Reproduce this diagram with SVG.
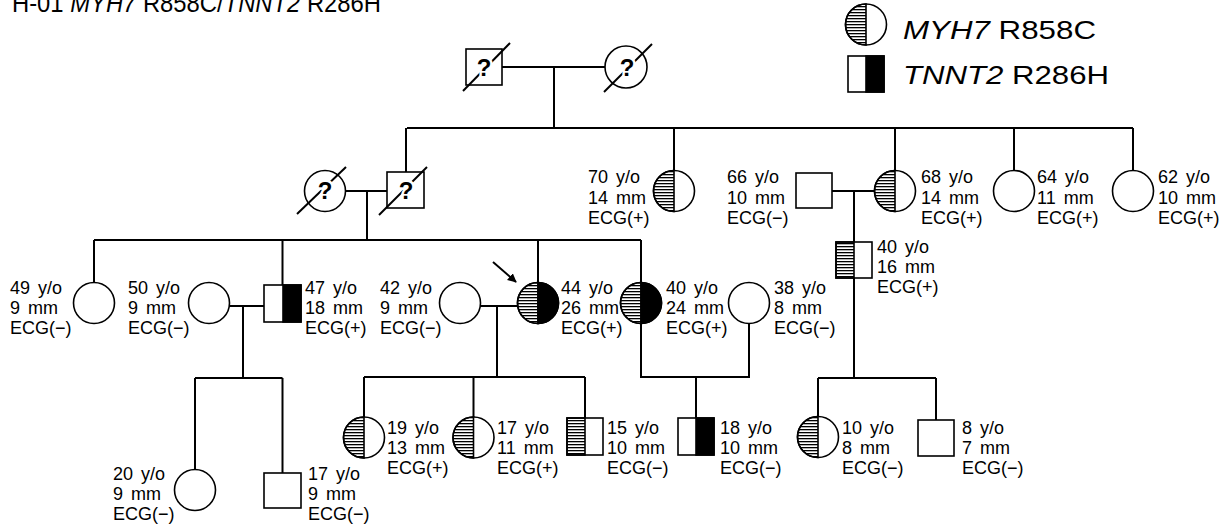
<svg xmlns="http://www.w3.org/2000/svg" width="1231" height="526" viewBox="0 0 1231 526">
<defs>
<pattern id="h" width="4" height="3" patternUnits="userSpaceOnUse"><rect width="4" height="1.3" fill="#000"/></pattern>
<marker id="ah" viewBox="0 0 10 10" refX="9" refY="5" markerWidth="9" markerHeight="9" markerUnits="userSpaceOnUse" orient="auto"><path d="M0,0 L10,5 L0,10 Z" fill="#000"/></marker>
</defs>
<style>
text{font-family:"Liberation Sans",Arial,sans-serif;fill:#000}
.lb{font-size:18px;word-spacing:3px}
.big{font-size:25px}
.q{font-size:24px;font-weight:bold;text-anchor:middle;paint-order:stroke;stroke:#fff;stroke-width:5px}
.n{fill:#fff;stroke:#000;stroke-width:1.6}
.ht{fill:url(#h);stroke:#000;stroke-width:1.6}
.bk{fill:#000;stroke:#000;stroke-width:1.6}
.ol{fill:none;stroke:#000;stroke-width:1.6}
.c line,.c path{stroke:#000;stroke-width:2;fill:none}
.sl{stroke:#000;stroke-width:2}
</style>
<rect width="1231" height="526" fill="#fff"/>
<text x="12" y="12" font-size="25" textLength="369" lengthAdjust="spacingAndGlyphs">H-01 <tspan font-style="italic">MYH7</tspan> R858C/<tspan font-style="italic">TNNT2</tspan> R286H</text>

<g id="legend">
<path class="ht" d="M866,4 A20.5,20.5 0 0 0 866,45 Z"/>
<circle class="ol" cx="866" cy="24.5" r="20.5"/>
<text class="big" x="903" y="39" textLength="193" lengthAdjust="spacingAndGlyphs"><tspan font-style="italic">MYH7</tspan> R858C</text>
<rect class="n" x="848" y="56" width="36" height="36"/>
<rect class="bk" x="866" y="56" width="18" height="36"/>
<text class="big" x="903" y="84" textLength="206" lengthAdjust="spacingAndGlyphs"><tspan font-style="italic">TNNT2</tspan> R286H</text>
</g>

<g id="connectors" class="c">
<line x1="502" y1="67" x2="605.5" y2="67"/>
<line x1="554" y1="67" x2="554" y2="128"/>
<line x1="407" y1="128" x2="1133" y2="128"/>
<line x1="406" y1="128" x2="406" y2="172"/>
<line x1="674" y1="128" x2="674" y2="170.5"/>
<line x1="895" y1="128" x2="895" y2="170.5"/>
<line x1="1014" y1="128" x2="1014" y2="170.5"/>
<line x1="1133" y1="128" x2="1133" y2="170.5"/>
<line x1="345.5" y1="191" x2="387" y2="191"/>
<line x1="367" y1="191" x2="367" y2="240"/>
<line x1="94" y1="240" x2="641" y2="240"/>
<line x1="94" y1="240" x2="94" y2="282.5"/>
<line x1="282.5" y1="240" x2="282.5" y2="285"/>
<line x1="538" y1="240" x2="538" y2="282.5"/>
<line x1="641" y1="240" x2="641" y2="282.5"/>
<line x1="832" y1="191" x2="874.5" y2="191"/>
<line x1="854" y1="191" x2="854" y2="242"/>
<line x1="854" y1="278" x2="854" y2="378"/>
<line x1="818" y1="378" x2="936" y2="378"/>
<line x1="818" y1="378" x2="818" y2="416.5"/>
<line x1="936" y1="378" x2="936" y2="420"/>
<line x1="229.5" y1="306" x2="264" y2="306"/>
<line x1="243" y1="306" x2="243" y2="378"/>
<line x1="195" y1="378" x2="282.5" y2="378"/>
<line x1="195" y1="378" x2="195" y2="469.5"/>
<line x1="282.5" y1="378" x2="282.5" y2="473"/>
<line x1="480.5" y1="306" x2="517.5" y2="306"/>
<line x1="497" y1="306" x2="497" y2="377"/>
<line x1="364" y1="377" x2="585" y2="377"/>
<line x1="364" y1="377" x2="364" y2="417"/>
<line x1="473.5" y1="377" x2="473.5" y2="417"/>
<line x1="585" y1="377" x2="585" y2="418"/>
<path d="M641,323.5 V377 H749 V323.5"/>
<line x1="696" y1="377" x2="696" y2="418"/>
<line x1="493" y1="262" x2="516" y2="282" marker-end="url(#ah)"/>
</g>

<g id="I-1">
<rect class="n" x="466" y="49" width="36" height="36"/>
<line class="sl" x1="463" y1="91" x2="510" y2="43"/>
<text class="q" x="484" y="76">?</text>
</g>
<g id="I-2">
<circle class="n" cx="626" cy="67" r="21"/>
<line class="sl" x1="604" y1="92" x2="652" y2="44"/>
<text class="q" x="627" y="76">?</text>
</g>

<g id="II-1">
<circle class="n" cx="325" cy="191" r="20.5"/>
<line class="sl" x1="297" y1="214" x2="346" y2="167"/>
<text class="q" x="325" y="199">?</text>
</g>
<g id="II-2">
<rect class="n" x="387" y="172" width="37" height="36"/>
<line class="sl" x1="379" y1="215" x2="427" y2="167"/>
<text class="q" x="406" y="199">?</text>
</g>
<g id="II-3">
<circle class="n" cx="674" cy="191" r="20.5"/>
<path class="ht" d="M674,170.5 A20.5,20.5 0 0 0 674,211.5 Z"/>
<text class="lb" x="588" y="183">70 y/o</text><text class="lb" x="588" y="203.5">14 mm</text><text class="lb" x="588" y="224">ECG(+)</text>
</g>
<g id="II-4">
<rect class="n" x="796" y="173" width="36" height="35"/>
<text class="lb" x="727" y="183">66 y/o</text><text class="lb" x="727" y="203.5">10 mm</text><text class="lb" x="727" y="224">ECG(−)</text>
</g>
<g id="II-5">
<circle class="n" cx="895" cy="191" r="20.5"/>
<path class="ht" d="M895,170.5 A20.5,20.5 0 0 0 895,211.5 Z"/>
<text class="lb" x="921" y="183">68 y/o</text><text class="lb" x="921" y="203.5">14 mm</text><text class="lb" x="921" y="224">ECG(+)</text>
</g>
<g id="II-6">
<circle class="n" cx="1014" cy="191" r="20.5"/>
<text class="lb" x="1037" y="183">64 y/o</text><text class="lb" x="1037" y="203.5">11 mm</text><text class="lb" x="1037" y="224">ECG(+)</text>
</g>
<g id="II-7">
<circle class="n" cx="1133" cy="191" r="20.5"/>
<text class="lb" x="1158" y="183">62 y/o</text><text class="lb" x="1158" y="203.5">10 mm</text><text class="lb" x="1158" y="224">ECG(+)</text>
</g>
<g id="III-8">
<rect class="n" x="836" y="242" width="36" height="36"/>
<rect class="ht" x="836" y="242" width="18" height="36"/>
<text class="lb" x="877" y="253">40 y/o</text><text class="lb" x="877" y="273">16 mm</text><text class="lb" x="877" y="293">ECG(+)</text>
</g>

<g id="III-1">
<circle class="n" cx="94" cy="303" r="20.5"/>
<text class="lb" x="10" y="294">49 y/o</text><text class="lb" x="10" y="314">9 mm</text><text class="lb" x="10" y="334">ECG(−)</text>
</g>
<g id="III-2">
<circle class="n" cx="209" cy="303" r="20.5"/>
<text class="lb" x="128" y="294">50 y/o</text><text class="lb" x="128" y="314">9 mm</text><text class="lb" x="128" y="334">ECG(−)</text>
</g>
<g id="III-3">
<rect class="n" x="264" y="285" width="37" height="37"/>
<rect class="bk" x="283" y="285" width="18" height="37"/>
<text class="lb" x="305" y="294">47 y/o</text><text class="lb" x="305" y="314">18 mm</text><text class="lb" x="305" y="334">ECG(+)</text>
</g>
<g id="III-4">
<circle class="n" cx="460" cy="303" r="20.5"/>
<text class="lb" x="380" y="294">42 y/o</text><text class="lb" x="380" y="314">9 mm</text><text class="lb" x="380" y="334">ECG(−)</text>
</g>
<g id="III-5">
<circle class="n" cx="538" cy="303" r="20.5"/>
<path class="ht" d="M538,282.5 A20.5,20.5 0 0 0 538,323.5 Z"/>
<path class="bk" d="M538,282.5 A20.5,20.5 0 0 1 538,323.5 Z"/>
<text class="lb" x="561" y="294">44 y/o</text><text class="lb" x="561" y="314">26 mm</text><text class="lb" x="561" y="334">ECG(+)</text>
</g>
<g id="III-6">
<circle class="n" cx="641" cy="303" r="20.5"/>
<path class="ht" d="M641,282.5 A20.5,20.5 0 0 0 641,323.5 Z"/>
<path class="bk" d="M641,282.5 A20.5,20.5 0 0 1 641,323.5 Z"/>
<text class="lb" x="666" y="294">40 y/o</text><text class="lb" x="666" y="314">24 mm</text><text class="lb" x="666" y="334">ECG(+)</text>
</g>
<g id="III-7">
<circle class="n" cx="749" cy="303" r="20.5"/>
<text class="lb" x="774" y="294">38 y/o</text><text class="lb" x="774" y="314">8 mm</text><text class="lb" x="774" y="334">ECG(−)</text>
</g>

<g id="IV-1">
<circle class="n" cx="364" cy="437.5" r="20.5"/>
<path class="ht" d="M364,417 A20.5,20.5 0 0 0 364,458 Z"/>
<text class="lb" x="387" y="434">19 y/o</text><text class="lb" x="387" y="454">13 mm</text><text class="lb" x="387" y="474">ECG(+)</text>
</g>
<g id="IV-2">
<circle class="n" cx="473.5" cy="437.5" r="20.5"/>
<path class="ht" d="M473.5,417 A20.5,20.5 0 0 0 473.5,458 Z"/>
<text class="lb" x="497" y="434">17 y/o</text><text class="lb" x="497" y="454">11 mm</text><text class="lb" x="497" y="474">ECG(+)</text>
</g>
<g id="IV-3">
<rect class="n" x="567" y="418" width="36" height="37"/>
<rect class="ht" x="567" y="418" width="18" height="37"/>
<text class="lb" x="607" y="434">15 y/o</text><text class="lb" x="607" y="454">10 mm</text><text class="lb" x="607" y="474">ECG(−)</text>
</g>
<g id="IV-4">
<rect class="n" x="678" y="418" width="36" height="37"/>
<rect class="bk" x="696" y="418" width="18" height="37"/>
<text class="lb" x="720" y="434">18 y/o</text><text class="lb" x="720" y="454">10 mm</text><text class="lb" x="720" y="474">ECG(−)</text>
</g>
<g id="IV-5">
<circle class="n" cx="818" cy="437" r="20.5"/>
<path class="ht" d="M818,416.5 A20.5,20.5 0 0 0 818,457.5 Z"/>
<text class="lb" x="842" y="434">10 y/o</text><text class="lb" x="842" y="454">8 mm</text><text class="lb" x="842" y="474">ECG(−)</text>
</g>
<g id="IV-6">
<rect class="n" x="918" y="420" width="36" height="36"/>
<text class="lb" x="962" y="434">8 y/o</text><text class="lb" x="962" y="454">7 mm</text><text class="lb" x="962" y="474">ECG(−)</text>
</g>
<g id="IV-7">
<circle class="n" cx="195" cy="490" r="20.5"/>
<text class="lb" x="113" y="480">20 y/o</text><text class="lb" x="113" y="500">9 mm</text><text class="lb" x="113" y="520">ECG(−)</text>
</g>
<g id="IV-8">
<rect class="n" x="264" y="473" width="37" height="35"/>
<text class="lb" x="308" y="480">17 y/o</text><text class="lb" x="308" y="500">9 mm</text><text class="lb" x="308" y="520">ECG(−)</text>
</g>
</svg>
